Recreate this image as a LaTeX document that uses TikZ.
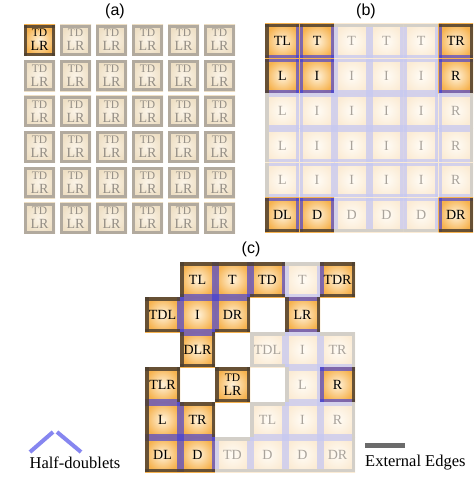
\documentclass[tikz,border=0pt]{standalone}
\usepackage{fontspec}
\setmainfont{Liberation Serif}
\setsansfont{Liberation Sans}
\usepackage{xstring}
\usetikzlibrary{positioning}

\definecolor{TileInner}{HTML}{FFF3DC}
\definecolor{TileOuter}{HTML}{F6B24E}
\definecolor{EdgeClr}{HTML}{4E4030}
\definecolor{DoubletClr}{HTML}{3C3CDC}
\definecolor{FadeInner}{HTML}{FFFCF6}
\definecolor{FadeOuter}{HTML}{FBEBD4}
\definecolor{FadeEdgeClr}{HTML}{D3CFC8}
\definecolor{FadeDoubletClr}{HTML}{C6C8F2}
\definecolor{FadeTxtClr}{HTML}{A9A39B}
\definecolor{GreyInner}{HTML}{FBF4E8}
\definecolor{GreyOuter}{HTML}{EEDFC4}
\definecolor{GreyEdgeClr}{HTML}{B2AA9E}
\definecolor{GreyTxtClr}{HTML}{948E85}
\definecolor{LegendBlue}{HTML}{8686F0}
\definecolor{LegendGray}{HTML}{6B6B6B}

% two stacked labels in one tile
\newcommand{\twoline}[2]{\fontsize{11.5}{9.5}\selectfont #1\\#2}

% #1 name, #2 x, #3 y, #4 size, #5 outer sides, #6 text, #7 on/off/grey
\newcommand{\drawtile}[7]{%
  \IfStrEq{#7}{on}%
    {\def\tilein{TileInner}\def\tileout{TileOuter}\def\tileedge{EdgeClr}\def\tiledbl{DoubletClr}\def\tiletxt{black}\def\tileop{.85}}%
    {\IfStrEq{#7}{grey}%
      {\def\tilein{GreyInner}\def\tileout{GreyOuter}\def\tileedge{GreyEdgeClr}\def\tiledbl{GreyEdgeClr}\def\tiletxt{GreyTxtClr}\def\tileop{1}}%
      {\def\tilein{FadeInner}\def\tileout{FadeOuter}\def\tileedge{FadeEdgeClr}\def\tiledbl{FadeDoubletClr}\def\tiletxt{FadeTxtClr}\def\tileop{1}}}%
  \pgfmathsetmacro\tilea{#4/2}%
  \pgfmathsetmacro\tileh{#4/2-\tilelw/2}%
  \shade[inner color=\tilein,outer color=\tileout] (#2-\tilea,#3-\tilea) rectangle (#2+\tilea,#3+\tilea);
  % half-doublets first, external edges on top
  \IfSubStr{#5}{T}{}{\draw[tileline,draw=\tiledbl,draw opacity=.75*\tileop] (#2-\tilea,#3-\tileh) -- (#2+\tilea,#3-\tileh);}%
  \IfSubStr{#5}{D}{}{\draw[tileline,draw=\tiledbl,draw opacity=.75*\tileop] (#2-\tilea,#3+\tileh) -- (#2+\tilea,#3+\tileh);}%
  \IfSubStr{#5}{L}{}{\draw[tileline,draw=\tiledbl,draw opacity=.75*\tileop] (#2-\tileh,#3-\tilea) -- (#2-\tileh,#3+\tilea);}%
  \IfSubStr{#5}{R}{}{\draw[tileline,draw=\tiledbl,draw opacity=.75*\tileop] (#2+\tileh,#3-\tilea) -- (#2+\tileh,#3+\tilea);}%
  \IfSubStr{#5}{T}{\draw[tileline,draw=\tileedge,draw opacity=\tileop] (#2-\tilea,#3-\tileh) -- (#2+\tilea,#3-\tileh);}{}%
  \IfSubStr{#5}{D}{\draw[tileline,draw=\tileedge,draw opacity=\tileop] (#2-\tilea,#3+\tileh) -- (#2+\tilea,#3+\tileh);}{}%
  \IfSubStr{#5}{L}{\draw[tileline,draw=\tileedge,draw opacity=\tileop] (#2-\tileh,#3-\tilea) -- (#2-\tileh,#3+\tilea);}{}%
  \IfSubStr{#5}{R}{\draw[tileline,draw=\tileedge,draw opacity=\tileop] (#2+\tileh,#3-\tilea) -- (#2+\tileh,#3+\tilea);}{}%
  \node[tiletext,text=\tiletxt] (#1) at (#2,#3) {#6};
}

\begin{document}
\begin{tikzpicture}[x=1pt,y=-1pt,
  tileline/.style={line width=\tilelw pt},
  tiletext/.style={font=\fontsize{14}{14}\selectfont,align=center,inner sep=0pt},
  paneltag/.style={font=\sffamily\fontsize{16}{16}\selectfont},
  legendtext/.style={font=\fontsize{16.5}{16.5}\selectfont,inner sep=0pt}]
\useasboundingbox[fill=white] (0,0) rectangle (474,497);

% panel (a)
\node[paneltag] (taga) at (115,11) {(a)};
\def\tilelw{3}
\foreach \i in {0,...,5}{
  \foreach \j in {0,...,5}{
    \def\tstate{grey}
    \ifnum\i=0 \ifnum\j=0 \def\tstate{on}\fi\fi
    \pgfmathsetmacro\tx{39.5+36*\i}
    \pgfmathsetmacro\ty{40.2+35.6*\j}
    \drawtile{a\i\j}{\tx}{\ty}{31}{TDLR}{\twoline{TD}{LR}}{\tstate}
  }
}

% panel (b)
\node[paneltag] (tagb) at (366,11) {(b)};
\def\tilelw{3.5}
\foreach \i in {0,...,5}{
  \foreach \j in {0,...,5}{
    \def\tlab{}
    \ifnum\j=0 \edef\tlab{\tlab T}\fi
    \ifnum\j=5 \edef\tlab{\tlab D}\fi
    \ifnum\i=0 \edef\tlab{\tlab L}\fi
    \ifnum\i=5 \edef\tlab{\tlab R}\fi
    \ifx\tlab\empty \def\tlab{I}\fi
    \pgfmathtruncatemacro\ton{((\i<2)||(\i==5))&&((\j<2)||(\j==5))}
    \ifnum\ton=1 \def\tstate{on}\else \def\tstate{off}\fi
    \pgfmathsetmacro\tx{282.35+34.7*\i}
    \pgfmathsetmacro\ty{41.35+34.7*\j}
    \drawtile{b\i\j}{\tx}{\ty}{34.7}{\tlab}{\tlab}{\tstate}
  }
}

% panel (c)
\node[paneltag] (tagc) at (251,249) {(c)};
\foreach \c/\r/\lab/\st in {1/0/TL/on, 2/0/T/on, 3/0/TD/on, 4/0/T/off, 5/0/TDR/on,
    0/1/TDL/on, 1/1/I/on, 2/1/DR/on, 4/1/LR/on,
    1/2/DLR/on, 3/2/TDL/off, 4/2/I/off, 5/2/TR/off,
    0/3/TLR/on, 2/3/TDLR/on, 4/3/L/off, 5/3/R/on,
    0/4/L/on, 1/4/TR/on, 3/4/TL/off, 4/4/I/off, 5/4/R/off,
    0/5/DL/on, 1/5/D/on, 2/5/TD/off, 3/5/D/off, 4/5/D/off, 5/5/DR/off}{
  \IfStrEq{\lab}{TDLR}{\def\ttext{\twoline{TD}{LR}}}{\let\ttext\lab}
  \pgfmathsetmacro\tx{162.5+35*\c}
  \pgfmathsetmacro\ty{279.5+35*\r}
  \drawtile{c\c\r}{\tx}{\ty}{35}{\lab}{\ttext}{\st}
}

% legend
\coordinate (hdl) at (30,452);
\coordinate (hdm) at (53,432);
\coordinate (hdn) at (57,432);
\coordinate (hdr) at (81,452);
\draw[line width=4pt,LegendBlue] (hdl) -- (hdm) (hdn) -- (hdr);
\node[legendtext] (halfdoublets) at (75,463) {Half-doublets};
\coordinate (exl) at (365,445.5);
\coordinate (exr) at (405,445.5);
\draw[line width=5.5pt,LegendGray] (exl) -- (exr);
\node[legendtext,anchor=west] (externaledges) at (365,463) {External Edges};
\end{tikzpicture}
\end{document}
